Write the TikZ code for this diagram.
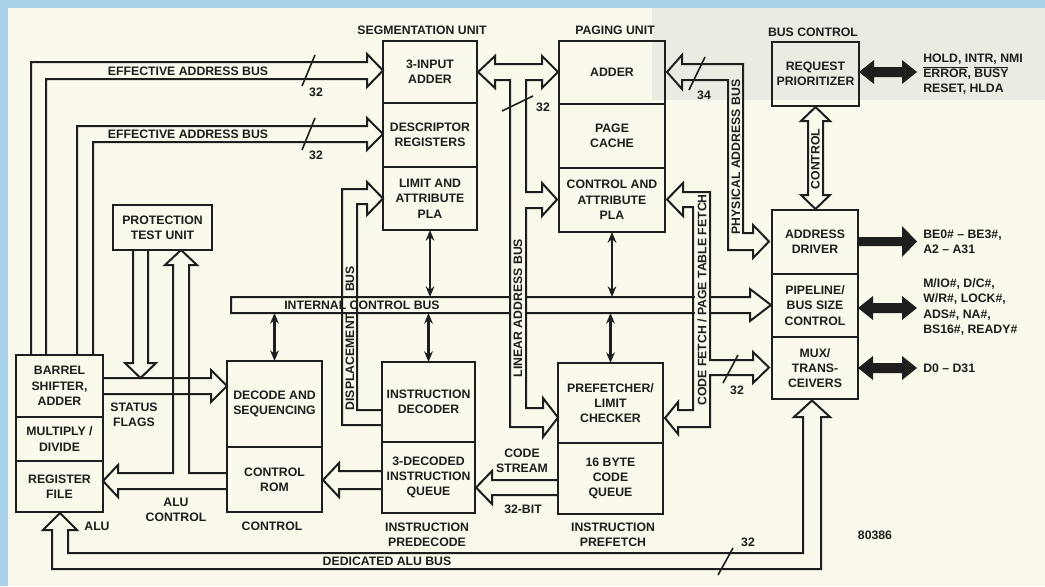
\documentclass[tikz,border=0pt]{standalone}
\usepackage{fontspec}
\setmainfont{Liberation Sans}
\usetikzlibrary{arrows.meta}
\definecolor{paper}{HTML}{FBF9EC}
\definecolor{frame}{HTML}{A8D2EA}
\definecolor{ink}{HTML}{1E1E1E}
\definecolor{ghost}{HTML}{ECEBE3}
\newcommand\lblfont{\fontsize{9.2}{11.5}\selectfont\bfseries}
\newcommand\ovl[1]{$\overline{\hbox{#1}}$}
\tikzset{
  blk/.style={draw=ink, line width=2.2pt, inner sep=0pt, outer sep=0pt, align=center, font=\lblfont, text=ink},
  bus/.style={draw=ink, line width=1.5pt, line join=miter},
  lbl/.style={font=\lblfont, text=ink, align=center, inner sep=0pt},
  dbl/.style={draw=ink, line width=1.6pt, {Stealth[length=8pt,width=6.5pt]}-{Stealth[length=8pt,width=6.5pt]}},
  slash/.style={draw=ink, line width=1.2pt},
  blackarrow/.style={fill=ink},
}
\newcommand\blk[6]{\node[blk, minimum width=#4*0.75pt, minimum height=#5*0.75pt] (#1) at (#2,#3) {#6};}
\begin{document}
\begin{tikzpicture}[x=0.75pt,y=-0.75pt]
% background
\fill[frame] (0,0) rectangle (1045,586);
\fill[paper] (8,8) rectangle (1045,586);
\fill[ghost] (652,8) rectangle (1045,100);
\useasboundingbox (0,0) rectangle (1045,586);

% ---------- blocks ----------
\blk{seg1}{430}{72}{94}{62}{3-INPUT\\ADDER}
\blk{seg2}{430}{135}{94}{64}{DESCRIPTOR\\REGISTERS}
\blk{seg3}{430}{198.5}{94}{63}{LIMIT AND\\ATTRIBUTE\\PLA}
\blk{pg1}{612}{72.5}{106}{63}{ADDER}
\blk{pg2}{612}{136}{106}{64}{PAGE\\CACHE}
\blk{pg3}{612}{200}{106}{64}{CONTROL AND\\ATTRIBUTE\\PLA}
\blk{req}{815.5}{74}{87}{64}{REQUEST\\PRIORITIZER}
\blk{adr}{815}{242}{86}{64}{ADDRESS\\DRIVER}
\blk{pipe}{815}{305.5}{86}{63}{PIPELINE/\\BUS SIZE\\CONTROL}
\blk{mux}{815}{368}{86}{62}{MUX/\\TRANS-\\CEIVERS}
\blk{prot}{162.5}{227.5}{99}{45}{PROTECTION\\TEST UNIT}
\blk{alu1}{59.5}{386}{87}{62}{BARREL\\SHIFTER,\\ADDER}
\blk{alu2}{59.5}{439}{87}{44}{MULTIPLY /\\DIVIDE}
\blk{alu3}{59.5}{486.5}{87}{51}{REGISTER\\FILE}
\blk{dec1}{274.5}{404}{95}{86}{DECODE AND\\SEQUENCING}
\blk{dec2}{274.5}{479.5}{95}{65}{CONTROL\\ROM}
\blk{id1}{428.5}{402}{93}{80}{INSTRUCTION\\DECODER}
\blk{id2}{428.5}{477.5}{93}{71}{3-DECODED\\INSTRUCTION\\QUEUE}
\blk{pf1}{610.5}{403}{105}{80}{PREFETCHER/\\LIMIT\\CHECKER}
\blk{pf2}{610.5}{478.5}{105}{71}{16 BYTE\\CODE\\QUEUE}

% ---------- group labels ----------
\node[lbl] (tSeg) at (422,30) {SEGMENTATION UNIT};
\node[lbl] (tPag) at (615,30) {PAGING UNIT};
\node[lbl] (tBus) at (813,32) {BUS CONTROL};
\node[lbl] (tAlu) at (97,526) {ALU};
\node[lbl] (tCtl) at (272,526) {CONTROL};
\node[lbl] (tPre) at (427,535) {INSTRUCTION\\PREDECODE};
\node[lbl] (tPf) at (613,535) {INSTRUCTION\\PREFETCH};
\node[lbl] (t386) at (875,535) {80386};

% ---------- effective address buses ----------
\draw[bus] (31,355) -- (31,62) -- (367,62) -- (367,54) -- (383,70.5) -- (367,87) -- (367,79) -- (46,79) -- (46,355);
\draw[bus] (77,355) -- (77,126) -- (367,126) -- (367,118) -- (383,134) -- (367,150) -- (367,142) -- (93,142) -- (93,355);
\node[lbl] (tEab1) at (188,71) {EFFECTIVE ADDRESS BUS};
\node[lbl] (tEab2) at (188,134.5) {EFFECTIVE ADDRESS BUS};
\draw[slash] (315,55) -- (302,86);
\draw[slash] (315,118) -- (302,150);
\node[lbl] (n32a) at (316,92) {32};
\node[lbl] (n32b) at (316,155) {32};

% ---------- internal control bus ----------
\draw[bus] (750,297) -- (750,289) -- (771,305) -- (750,321) -- (750,313) -- (231,313) -- (231,297) -- cycle;
\node[lbl] (tIcb) at (362,305) {INTERNAL CONTROL BUS};
\coordinate (icbT) at (0,297);
\coordinate (icbB) at (0,313);

% ---------- displacement bus ----------
\draw[bus] (382,410) -- (357,410) -- (357,204) -- (367,204) -- (367,215) -- (383,198.5) -- (367,182) -- (367,189) -- (342,189) -- (342,425) -- (382,425);
\node[lbl, rotate=90] (tDb) at (350,279) {BUS};
\node[lbl, rotate=90] (tDisp) at (350,362) {DISPLACEMENT};

% ---------- linear address bus ----------
\fill[paper] (511,295.5) rectangle (525,314.5);
\draw[bus] (495,64) -- (495,56) -- (478,72) -- (495,88) -- (495,80) -- (510,80) -- (510,427) -- (543,427) -- (543,437) -- (558,417.5) -- (543,398) -- (543,408) -- (526,408) -- (526,208) -- (542,208) -- (542,216) -- (557,199.5) -- (542,183) -- (542,192) -- (526,192) -- (526,80) -- (542,80) -- (542,88) -- (558,72) -- (542,56) -- (542,64) -- cycle;
\node[lbl, rotate=90] (tLin) at (518,308) {LINEAR ADDRESS BUS};
\draw[slash] (502,111) -- (533,96);
\node[lbl] (n32c) at (543,107) {32};

% ---------- code fetch / page table fetch bus ----------
\fill[paper] (694.5,295.5) rectangle (709,314.5);
\draw[bus] (693,410) -- (678,410) -- (678,402) -- (665,418) -- (678,434) -- (678,427) -- (710,427) -- (710,375) -- (753,375) -- (753,383) -- (769,367.5) -- (753,352) -- (753,360) -- (710,360) -- (710,192) -- (683,192) -- (683,183) -- (667,199.5) -- (683,216) -- (683,207) -- (693,207) -- cycle;
\node[lbl, rotate=90] (tCf) at (702,300) {CODE FETCH / PAGE TABLE FETCH};
\draw[slash] (738,355) -- (723,383);
\node[lbl] (n32d) at (737,390) {32};

% ---------- physical address bus ----------
\draw[bus] (682,64) -- (743,64) -- (743,233) -- (753,233) -- (753,225) -- (769,241.5) -- (753,258) -- (753,250) -- (728,250) -- (728,80) -- (682,80) -- (682,89) -- (667,72) -- (682,55) -- cycle;
\node[lbl, rotate=90] (tPhys) at (736,157) {PHYSICAL ADDRESS BUS};
\draw[slash] (705,57) -- (689,90);
\node[lbl] (n34) at (704,95) {34};

% ---------- control bus (bus control) ----------
\draw[bus] (808,121) -- (801,121) -- (815.5,107) -- (830,121) -- (823,121) -- (823,195) -- (830,195) -- (815.5,209) -- (801,195) -- (808,195) -- cycle;
\node[lbl, rotate=90] (tCtlb) at (815.5,159) {CONTROL};

% ---------- protection test unit buses ----------
\draw[bus] (133,250) -- (133,363) -- (125,363) -- (140.5,378) -- (156,363) -- (148,363) -- (148,250);
\draw[bus] (227,473) -- (189,473) -- (189,265) -- (197,265) -- (181,250) -- (165,265) -- (173,265) -- (173,473) -- (118,473) -- (118,465) -- (103,481) -- (118,497) -- (118,489) -- (227,489);
\node[lbl] (tAluc) at (176,510) {ALU\\CONTROL};

% ---------- status flags ----------
\draw[bus] (103,378) -- (211,378) -- (211,370) -- (227,386) -- (211,402) -- (211,394) -- (103,394);
\node[lbl] (tSf) at (134,415) {STATUS\\FLAGS};

% ---------- queue -> control ROM ----------
\draw[bus] (382,471) -- (339,471) -- (339,463) -- (323,480) -- (339,497) -- (339,489) -- (382,489);

% ---------- code stream ----------
\draw[bus] (558,480) -- (492,480) -- (492,471) -- (476,487.5) -- (492,504) -- (492,495) -- (558,495);
\node[lbl] (tCs) at (522,461) {CODE\\STREAM};
\node[lbl] (t32bit) at (523,509) {32-BIT};

% ---------- dedicated ALU bus ----------
\draw[bus] (803,417) -- (803,553) -- (68,553) -- (68,530) -- (77,530) -- (60,513) -- (43,530) -- (52,530) -- (52,569) -- (821,569) -- (821,417) -- (830,417) -- (812,400.5) -- (794,417) -- cycle;
\node[lbl] (tDed) at (387,561) {DEDICATED ALU BUS};
\draw[slash] (733,548) -- (718,575);
\node[lbl] (n32e) at (748,542) {32};

% ---------- thin double arrows ----------
\draw[dbl] (seg3.south) -- (seg3.south |- icbT);
\draw[dbl] (pg3.south) -- (pg3.south |- icbT);
\draw[dbl] (dec1.north) -- (dec1.north |- icbB);
\draw[dbl] (id1.north) -- (id1.north |- icbB);
\draw[dbl] (pf1.north) -- (pf1.north |- icbB);

% ---------- external black arrows ----------
\fill[blackarrow] (859,72) -- (874,60) -- (874,67) -- (902,67) -- (902,60) -- (917,72) -- (902,84) -- (902,77) -- (874,77) -- (874,84) -- cycle;
\fill[blackarrow] (858,237) -- (902,237) -- (902,226) -- (917,241.5) -- (902,257) -- (902,246) -- (858,246) -- cycle;
\fill[blackarrow] (858,308) -- (873,296) -- (873,303) -- (902,303) -- (902,296) -- (917,308) -- (902,320) -- (902,313) -- (873,313) -- (873,320) -- cycle;
\fill[blackarrow] (858,368) -- (873,356) -- (873,363) -- (902,363) -- (902,356) -- (917,368) -- (902,380) -- (902,373) -- (873,373) -- (873,380) -- cycle;

\node[lbl, anchor=west, align=left] (sReq) at (923,74) {HOLD, INTR, NMI\\\ovl{ERROR}, \ovl{BUSY}\\RESET, HLDA};
\node[lbl, anchor=west, align=left] (sAdr) at (923,242) {BE0\# -- BE3\#,\\A2 -- A31};
\node[lbl, anchor=west, align=left] (sPipe) at (923,307) {M/IO\#, D/C\#,\\W/R\#, LOCK\#,\\ADS\#, NA\#,\\BS16\#, READY\#};
\node[lbl, anchor=west] (sMux) at (923,368) {D0 -- D31};
\end{tikzpicture}
\end{document}
